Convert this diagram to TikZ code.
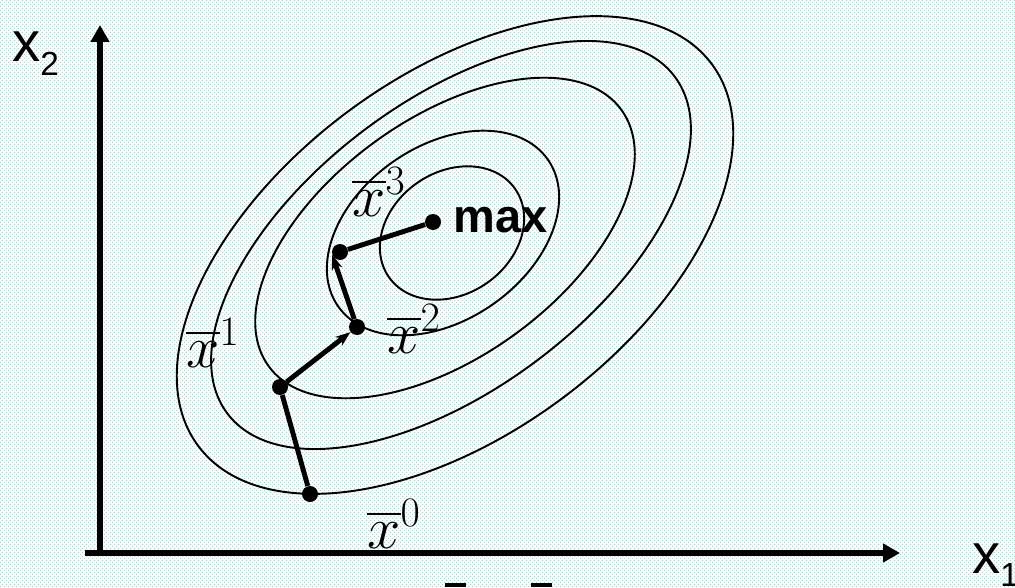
\RequirePackage{fix-cm}
\documentclass[tikz,border=0pt]{standalone}
\usepackage{amsmath,amssymb}
\usepackage{fontspec}
\setsansfont{Liberation Sans}
\usepackage{xcolor}
\usepackage{tikz}
\usetikzlibrary{arrows.meta,patterns.meta}
\definecolor{fondpoint}{RGB}{165,215,215}
\tikzdeclarepattern{
  name=pointgrille,
  type=uncolored,
  bounding box={(0pt,0pt) and (2.27pt,2.27pt)},
  tile size={(2.27pt,2.27pt)},
  code={
    \fill (0pt,0pt) rectangle (0.6pt,0.6pt);
    \fill (1.13pt,1.13pt) rectangle (1.73pt,1.73pt);
  }
}
\tikzset{
  niveau/.style={line width=1.1pt},
  pas/.style={line width=2.8pt},
  iterpt/.style={circle,fill,inner sep=0pt,minimum size=0.32cm},
  axe/.style={line width=3.4pt,-{Triangle[length=0.34cm,width=0.36cm]}},
  iterlab/.style={anchor=base west,inner sep=0pt,font=\fontsize{34}{40}\selectfont},
  axelab/.style={anchor=base west,inner sep=0pt,font=\fontsize{32}{38}\sffamily\selectfont}
}
\newcommand{\axind}[2]{#1\raisebox{-7.4pt}{\fontsize{19}{19}\selectfont #2}}

\begin{document}
\begin{tikzpicture}
      \useasboundingbox (0,0) rectangle (20.3,11.74);
      \fill[white] (0,0) rectangle (20.3,11.74);
      \fill[pattern=pointgrille,pattern color=fondpoint] (0,0) rectangle (20.3,11.74);
      % courbes de niveau
      \foreach \cx/\cy/\ra/\rb/\ang in {9.04/7.08/1.54/1.22/35, 8.86/7.08/2.56/1.74/35,
          8.90/6.98/4.36/2.38/36, 9.02/6.84/5.60/2.88/37, 9.10/6.64/6.40/3.58/36.6}
        \draw[niveau,rotate around={\ang:(\cx,\cy)}] (\cx,\cy) ellipse (\ra cm and \rb cm);
      % axes
      \coordinate (xdeb) at (1.70,0.68);
      \coordinate (xfin) at (18.00,0.68);
      \coordinate (ydeb) at (2.00,0.62);
      \coordinate (yfin) at (2.00,11.24);
      \draw[axe] (xdeb) -- (xfin);
      \draw[axe] (ydeb) -- (yfin);
      \node[axelab] (lx1) at (19.44,0.28) {\axind{x}{1}};
      \node[axelab] (lx2) at (0.24,10.50) {\axind{x}{2}};
      % iteres
      \foreach \n/\pos in {p0/{(6.20,1.86)},p1/{(5.60,4.00)},p2/{(7.14,5.20)},p3/{(6.80,6.70)},pmax/{(8.66,7.30)}}
        \node[iterpt] (\n) at \pos {};
      \draw[pas] (p0) -- (p1);
      \draw[pas,-{Stealth[length=0.3cm,width=0.22cm]}] (p1) -- (p2);
      \draw[pas,-{Stealth[length=0.3cm,width=0.22cm]}] (p2) -- (p3.200);
      \draw[pas] (p3) -- (pmax);
      \foreach \k/\pos in {0/{(7.34,0.78)},1/{(3.72,4.40)},2/{(7.74,4.68)},3/{(7.04,7.42)}}
        \node[iterlab] (lab\k) at \pos {$\overline{x}^{\k}$};
      \node[anchor=base west,inner sep=0pt,font=\fontsize{26.7}{30}\sffamily\bfseries\selectfont] (lmax) at (9.06,7.10) {max};
      % barres coupees en bas
      \fill (8.90,0) rectangle (9.32,0.08);
      \fill (10.62,0) rectangle (11.04,0.08);
    \end{tikzpicture}
\end{document}
